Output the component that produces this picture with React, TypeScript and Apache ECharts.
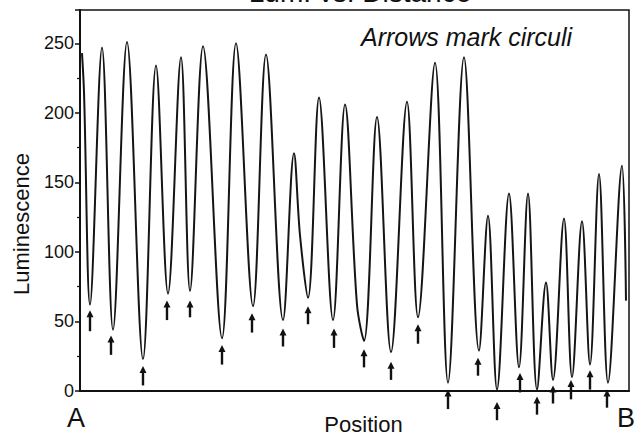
import React, { useEffect, useRef } from "react";
import * as echarts from "echarts";

// Luminescence profile along the scale (position, luminescence)
const positions = [2, 4, 10, 22, 33, 47, 63, 76, 88, 101, 110, 123, 142, 156, 173, 186, 203, 214, 220, 228, 239, 253, 265, 277, 284, 297, 311, 327, 338, 355, 368, 384, 399, 408, 417, 429, 439, 448, 457, 466, 473, 484, 492, 502, 510, 519, 528, 542, 546];
const luminescence = [243, 215, 62, 247, 44, 251, 23, 234, 70, 240, 72, 248, 38, 250, 61, 242, 51, 171, 112, 67, 211, 51, 206, 62, 36, 197, 28, 208, 53, 236, 6, 240, 29, 126, 1, 142, 17, 142, 1, 78, 8, 124, 10, 122, 19, 156, 6, 162, 65];

// Arrows marking circuli: position, tip value, tail value
const arrowX = [10, 31, 63, 87, 110, 142, 172, 203, 228, 254, 284, 311, 338, 368, 398, 417, 440, 457, 473, 491, 510, 527];
const arrowTip = [58, 40, 18, 65, 65, 33, 56, 45, 61, 45, 30, 21, 48, 1, 24, -8, 13, -4, 4, 8, 15, 1];
const arrowTail = [43, 26, 4, 51, 53, 19, 42, 32, 48, 31, 17, 8, 34, -13, 11, -21, -1, -17, -9, -6, 1, -12];

const yTicks = [0, 50, 100, 150, 200, 250];

const FONT = "'Liberation Sans', Arial, Helvetica, sans-serif";

export default function App() {
  const ref = useRef<HTMLDivElement>(null);
  useEffect(() => {
    if (!ref.current) return;
    const chart = echarts.init(ref.current, undefined, { renderer: "svg" });
    const lineData = positions.map((p, i) => [p, luminescence[i]]);
    const arrowData = arrowX.map((p, i) => [p, arrowTip[i], arrowTail[i]]);
    chart.setOption({
      animation: false,
      backgroundColor: "#fff",
      textStyle: { fontFamily: FONT },
      grid: {
        left: 80,
        right: 5,
        top: 10,
        bottom: 46,
        show: true,
        borderColor: "#111",
        borderWidth: 1.5,
      },
      xAxis: {
        type: "value",
        min: 0,
        max: 549,
        name: "Position",
        nameLocation: "middle",
        nameGap: 22,
        nameTextStyle: { fontSize: 22, color: "#111", fontFamily: FONT, padding: [0, 0, 0, 18] },
        axisLine: { show: true, lineStyle: { color: "#111", width: 2 } },
        axisTick: { show: false },
        axisLabel: { show: false },
        splitLine: { show: false },
      },
      yAxis: {
        type: "value",
        min: yTicks[0],
        max: 274,
        interval: 50,
        axisLine: { show: true, lineStyle: { color: "#111", width: 2 } },
        axisTick: { show: true, length: 5, lineStyle: { color: "#111", width: 1.5 } },
        minorTick: { show: true, splitNumber: 2, length: 3, lineStyle: { color: "#111", width: 1.2 } },
        axisLabel: {
          show: true,
          showMaxLabel: false,
          margin: 6,
          fontSize: 18,
          color: "#111",
          fontFamily: FONT,
          formatter: (v: number) => (yTicks.includes(v) ? String(v) : ""),
        },
        splitLine: { show: false },
      },
      series: [
        {
          type: "line",
          data: lineData,
          smooth: 0.35,
          showSymbol: false,
          lineStyle: { color: "#151515", width: 2 },
          z: 3,
        },
        {
          type: "custom",
          data: arrowData,
          clip: false,
          encode: { x: 0, y: 1 },
          z: 4,
          renderItem: (params: any, api: any) => {
            const x = api.value(0);
            const tip = api.coord([x, api.value(1)]);
            const tail = api.coord([x, api.value(2)]);
            const hw = 3.5;
            const hh = 7;
            return {
              type: "group",
              children: [
                {
                  type: "line",
                  shape: { x1: tip[0], y1: tip[1] + hh - 1, x2: tail[0], y2: tail[1] },
                  style: { stroke: "#111", lineWidth: 2.4 },
                },
                {
                  type: "polygon",
                  shape: {
                    points: [
                      [tip[0], tip[1]],
                      [tip[0] - hw, tip[1] + hh],
                      [tip[0] + hw, tip[1] + hh],
                    ],
                  },
                  style: { fill: "#111" },
                },
              ],
            };
          },
        },
      ],
      graphic: [
        {
          type: "text",
          x: 360,
          y: -22,
          style: {
            text: "Lum. vs. Distance",
            fontSize: 28,
            fontFamily: FONT,
            fill: "#111",
            align: "center",
            verticalAlign: "top",
          },
        },
        {
          type: "text",
          x: 21,
          y: 224,
          rotation: Math.PI / 2,
          style: {
            text: "Luminescence",
            fontSize: 22,
            fontFamily: FONT,
            fill: "#111",
            align: "center",
            verticalAlign: "middle",
          },
        },
        {
          type: "text",
          x: 361,
          y: 24,
          style: {
            text: "Arrows mark circuli",
            fontSize: 25,
            fontStyle: "italic",
            fontFamily: FONT,
            fill: "#111",
            align: "left",
            verticalAlign: "top",
          },
        },
        {
          type: "text",
          x: 67,
          y: 404,
          style: { text: "A", fontSize: 27, fontFamily: FONT, fill: "#111", align: "left", verticalAlign: "top" },
        },
        {
          type: "text",
          x: 617,
          y: 404,
          style: { text: "B", fontSize: 27, fontFamily: FONT, fill: "#111", align: "left", verticalAlign: "top" },
        },
      ],
    });
    return () => chart.dispose();
  }, []);
  return <div ref={ref} style={{ position: "fixed", left: 0, top: 0, width: 634, height: 440 }} />;
}
